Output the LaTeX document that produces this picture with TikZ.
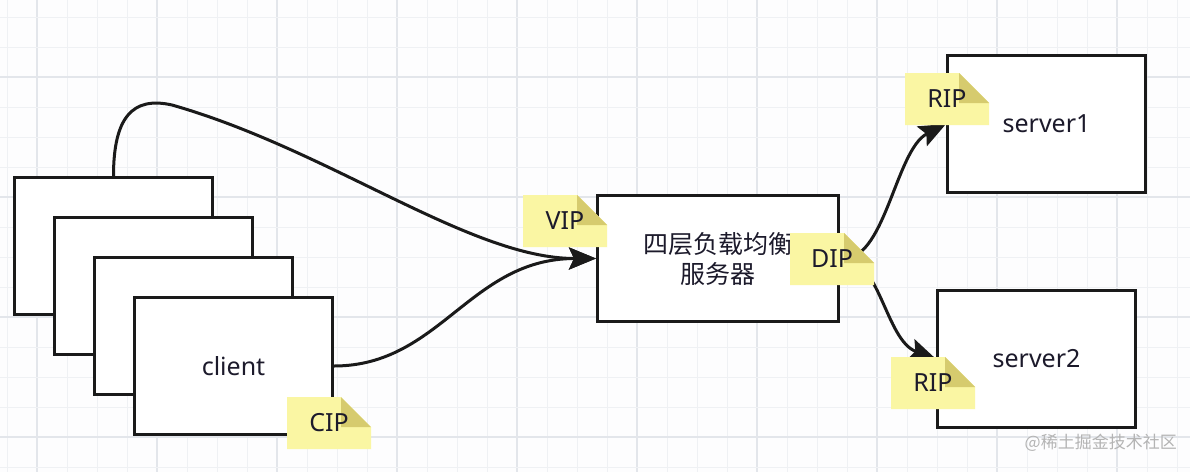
\documentclass[tikz,border=0pt]{standalone}
\usepackage{fontspec}
\setmainfont{Noto Sans}
\newfontfamily\cjk{Noto Sans CJK SC}
\usetikzlibrary{arrows.meta}
\definecolor{bg}{HTML}{FDFDFE}
\definecolor{gridminor}{HTML}{EFF1F4}
\definecolor{gridmajor}{HTML}{E3E6EB}
\definecolor{ink}{HTML}{1A1A1A}
\definecolor{txt}{HTML}{1C1A2B}
\definecolor{notefill}{HTML}{FAF6A3}
\definecolor{foldfill}{HTML}{D6CB6E}
\definecolor{wm}{HTML}{B4B4B4}
\tikzset{
  box/.style={draw=ink, line width=3pt, fill=white, inner sep=0pt, text=txt,
    font=\fontsize{25}{32}\selectfont},
  conn/.style={draw=ink, line width=3pt,
    -{Stealth[length=27pt,width=22pt,inset=5pt]}},
  notebox/.style={minimum width=84pt, minimum height=52pt, inner sep=0pt,
    text=txt, font=\fontsize{25}{30}\selectfont,
    path picture={
      \fill[notefill] (path picture bounding box.south west)
        -- (path picture bounding box.north west)
        -- ([xshift=-30pt]path picture bounding box.north east)
        -- ([yshift=-30pt]path picture bounding box.north east)
        -- (path picture bounding box.south east) -- cycle;
      \fill[foldfill] ([xshift=-30pt]path picture bounding box.north east)
        -- ([xshift=-30pt,yshift=-30pt]path picture bounding box.north east)
        -- ([yshift=-30pt]path picture bounding box.north east) -- cycle;
    }},
}
\begin{document}
\begin{tikzpicture}[x=1pt,y=-1pt]
\useasboundingbox (0,0) rectangle (1190,472);
\fill[bg] (0,0) rectangle (1190,472);
% grid
\foreach \k in {0,...,39}{
  \pgfmathtruncatemacro{\m}{mod(\k,4)}
  \ifnum\m=1
    \draw[gridmajor, line width=1.1pt] ({7+30*\k},0) -- ({7+30*\k},472);
  \else
    \draw[gridminor, line width=0.9pt] ({7+30*\k},0) -- ({7+30*\k},472);
  \fi
}
\foreach \k in {0,...,15}{
  \pgfmathtruncatemacro{\m}{mod(\k,4)}
  \ifnum\m=2
    \draw[gridmajor, line width=1.1pt] (0,{17+30*\k}) -- (1190,{17+30*\k});
  \else
    \draw[gridminor, line width=0.9pt] (0,{17+30*\k}) -- (1190,{17+30*\k});
  \fi
}
% client stack
\node[box, minimum width=198pt, minimum height=137pt] (c1) at (113.5,246) {};
\node[box, minimum width=198pt, minimum height=137pt] (c2) at (153.5,286) {};
\node[box, minimum width=198pt, minimum height=137pt] (c3) at (193.5,326) {};
\node[box, minimum width=198pt, minimum height=137pt] (c4) at (233.5,366) {client};
% load balancer
\node[box, minimum width=241pt, minimum height=126pt, align=center] (lb) at (718,258.5)
  {\cjk 四层负载均衡\\[-2pt]\cjk 服务器};
% servers
\node[box, minimum width=198pt, minimum height=137pt] (s1) at (1046.5,124) {server1};
\node[box, minimum width=198pt, minimum height=137pt] (s2) at (1036.5,359) {server2};
% connectors
\coordinate (k1) at (172,105);
\draw[conn] (c1.north) .. controls (113.5,118) and (132,96) .. (k1)
  .. controls (330,150) and (470,258.5) .. (lb.west);
\draw[conn] (c4.east) .. controls (440,366) and (470,258.5) .. (lb.west);
\draw[conn] (lb.east) .. controls (885,265) and (895,150) .. (s1.west);
\draw[conn] (lb.east) .. controls (880,255) and (885,340) .. (s2.west);
% notes
\node[notebox] (cip) at (329,423) {CIP};
\node[notebox] (vip) at (565,221) {VIP};
\node[notebox] (dip) at (832,259) {DIP};
\node[notebox] (rip1) at (947,99) {RIP};
\node[notebox] (rip2) at (933,383) {RIP};
% watermark
\node[anchor=east, text=wm, inner sep=0pt, font=\cjk\fontsize{17}{20}\selectfont] (wmk) at (1177,443) {@稀土掘金技术社区};
\end{tikzpicture}
\end{document}
